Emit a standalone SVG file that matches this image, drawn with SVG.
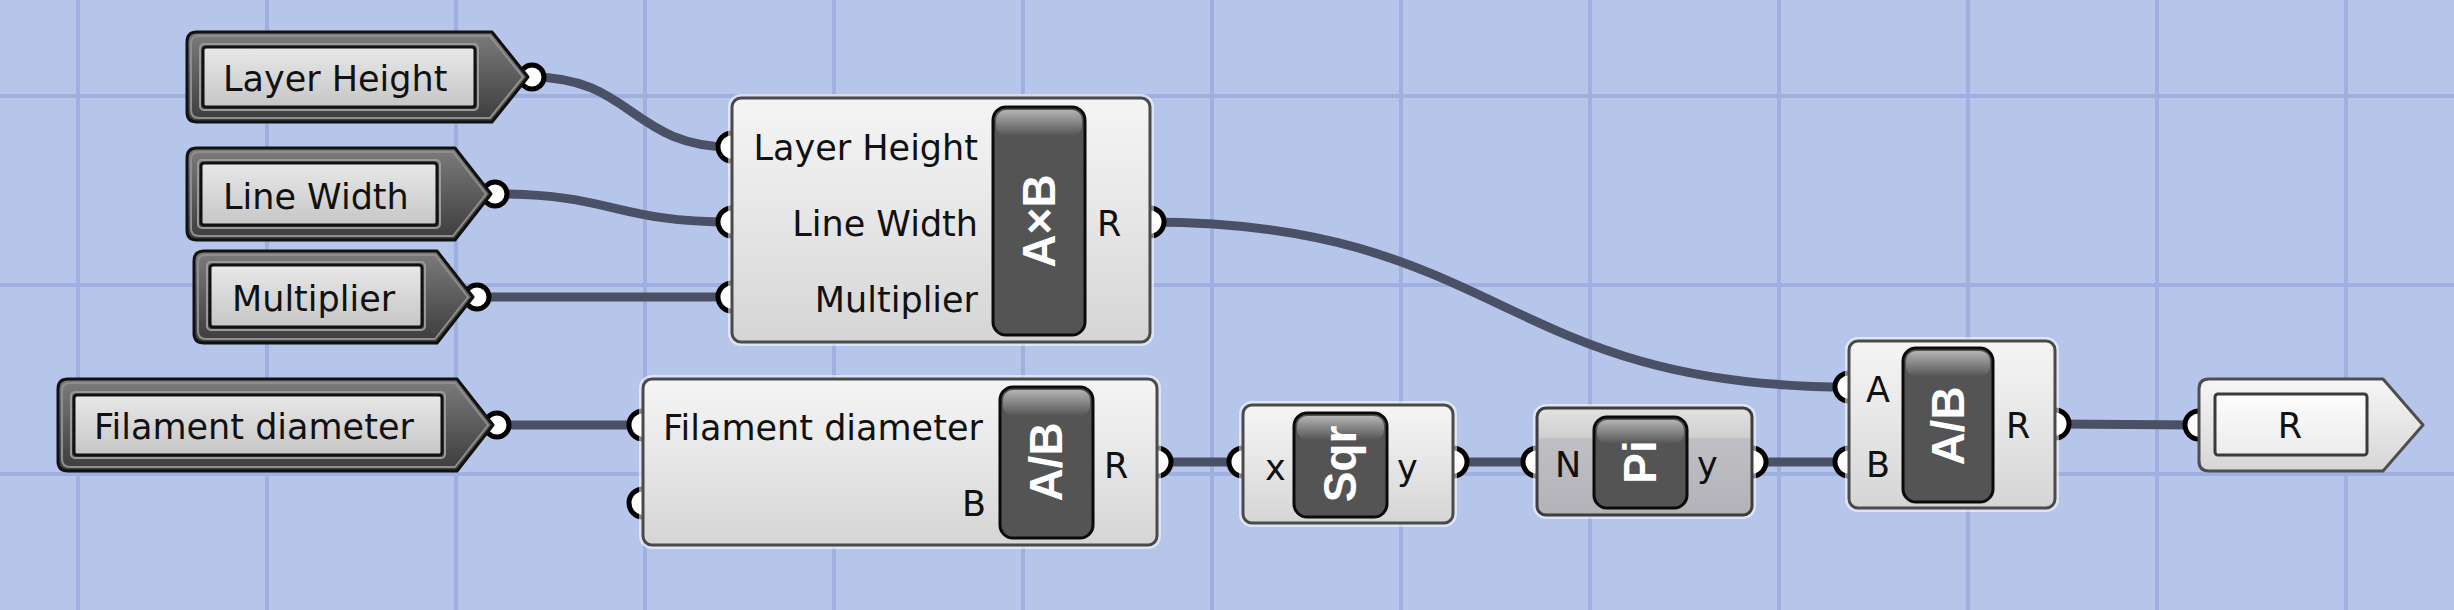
<svg xmlns="http://www.w3.org/2000/svg" width="2454" height="610" viewBox="0 0 2454 610">
<defs>
<style>
.grid{stroke:#9fb0e0;stroke-width:4}
.wire{fill:none;stroke:#4a5166;stroke-width:9}
.grip{fill:#ffffff;stroke:#000000;stroke-width:5}
.pout{fill:url(#gParam);stroke:#111111;stroke-width:3;stroke-linejoin:round}
.prim{fill:none;stroke:#8e8e8e;stroke-width:2;stroke-linejoin:round}
.pin{fill:url(#gParamIn);stroke:#111111;stroke-width:3}
.pinhalo{fill:none;stroke:#9a9a9a;stroke-width:2}
.glow{fill:none;stroke:#ffffff;stroke-opacity:0.55;stroke-width:8}
.body{fill:url(#gBody);stroke:#4a4a4a;stroke-width:3}
.btn{fill:#545454;stroke:#0a0a0a;stroke-width:3}
.hl{fill:url(#gHl)}
.lbl{font-family:"DejaVu Sans","Liberation Sans",sans-serif;font-size:35px;fill:#111111}
.ico{font-family:"Liberation Sans",Arial,sans-serif;font-weight:bold;font-size:46px;fill:#ffffff;text-anchor:middle}
.r{text-anchor:end}
.m{text-anchor:middle}
</style>
<linearGradient id="gParam" x1="0" y1="0" x2="0" y2="1">
<stop offset="0" stop-color="#7c7c7c"/><stop offset="0.5" stop-color="#5c5c5c"/><stop offset="1" stop-color="#3c3c3c"/>
</linearGradient>
<linearGradient id="gParamIn" x1="0" y1="0" x2="0" y2="1">
<stop offset="0" stop-color="#e8e8e8"/><stop offset="1" stop-color="#c6c6c6"/>
</linearGradient>
<linearGradient id="gBody" x1="0" y1="0" x2="0" y2="1">
<stop offset="0" stop-color="#f5f5f5"/><stop offset="0.5" stop-color="#e6e6e6"/><stop offset="1" stop-color="#d5d5d5"/>
</linearGradient>
<linearGradient id="gPi" x1="0" y1="0" x2="0" y2="1">
<stop offset="0" stop-color="#e2e2e2"/><stop offset="0.27" stop-color="#d0d0d0"/><stop offset="0.29" stop-color="#bfbfc4"/><stop offset="1" stop-color="#b2b2b8"/>
</linearGradient>
<linearGradient id="gHl" x1="0" y1="0" x2="0" y2="1">
<stop offset="0" stop-color="#b4b4b4"/><stop offset="1" stop-color="#545454"/>
</linearGradient>
<linearGradient id="gPanel" x1="0" y1="0" x2="0" y2="1">
<stop offset="0" stop-color="#f6f6f6"/><stop offset="1" stop-color="#d6d6d6"/>
</linearGradient>
<linearGradient id="gPanelIn" x1="0" y1="0" x2="0" y2="1">
<stop offset="0" stop-color="#fcfcfc"/><stop offset="1" stop-color="#ececec"/>
</linearGradient>
</defs>

<rect x="0" y="0" width="2454" height="610" fill="#b6c6eb"/>
<g id="grid">
<line class="grid" x1="78" y1="0" x2="78" y2="610"/>
<line class="grid" x1="267" y1="0" x2="267" y2="610"/>
<line class="grid" x1="456" y1="0" x2="456" y2="610"/>
<line class="grid" x1="645" y1="0" x2="645" y2="610"/>
<line class="grid" x1="834" y1="0" x2="834" y2="610"/>
<line class="grid" x1="1023" y1="0" x2="1023" y2="610"/>
<line class="grid" x1="1212" y1="0" x2="1212" y2="610"/>
<line class="grid" x1="1401" y1="0" x2="1401" y2="610"/>
<line class="grid" x1="1590" y1="0" x2="1590" y2="610"/>
<line class="grid" x1="1779" y1="0" x2="1779" y2="610"/>
<line class="grid" x1="1968" y1="0" x2="1968" y2="610"/>
<line class="grid" x1="2157" y1="0" x2="2157" y2="610"/>
<line class="grid" x1="2346" y1="0" x2="2346" y2="610"/>
<line class="grid" x1="0" y1="96" x2="2454" y2="96"/>
<line class="grid" x1="0" y1="285" x2="2454" y2="285"/>
<line class="grid" x1="0" y1="474" x2="2454" y2="474"/>
</g>

<g id="connectors">
<path class="wire" d="M532,77 C632,77 632,147 732,147"/>
<path class="wire" d="M495,194 C614,194 614,222 732,222"/>
<path class="wire" d="M477,297 L732,297"/>
<path class="wire" d="M1150,222 C1500,222 1499,387 1849,387"/>
<path class="wire" d="M497,425 L643,425"/>
<path class="wire" d="M1157,462 L1243,462"/>
<path class="wire" d="M1453,462 L1537,462"/>
<path class="wire" d="M1752,462 L1849,462"/>
<path class="wire" d="M2055,424 L2199,425"/>
</g>

<g id="param-layer-height">
<circle class="grip" cx="532" cy="77" r="12"/>
<path class="pout" d="M197,32 H492 L528,77 L492,122 H197 Q187,122 187,112 V42 Q187,32 197,32 Z"/>
<path class="prim" d="M199,36 H490 L523,77 L490,118 H199 Q191,118 191,110 V44 Q191,36 199,36 Z"/>
<rect class="pinhalo" x="200" y="44" width="278" height="66" rx="4"/>
<rect class="pin" x="203" y="47" width="272" height="60" rx="3"/>
<text class="lbl" x="223" y="91">Layer Height</text>
</g>

<g id="param-line-width">
<circle class="grip" cx="495" cy="194" r="12"/>
<path class="pout" d="M197,148 H455 L491,194 L455,240 H197 Q187,240 187,230 V158 Q187,148 197,148 Z"/>
<path class="prim" d="M199,152 H453 L486,194 L453,236 H199 Q191,236 191,228 V160 Q191,152 199,152 Z"/>
<rect class="pinhalo" x="198" y="160" width="242" height="68" rx="4"/>
<rect class="pin" x="201" y="163" width="236" height="62" rx="3"/>
<text class="lbl" x="223" y="209">Line Width</text>
</g>

<g id="param-multiplier">
<circle class="grip" cx="477" cy="297" r="12"/>
<path class="pout" d="M204,251 H437 L473,297 L437,343 H204 Q194,343 194,333 V261 Q194,251 204,251 Z"/>
<path class="prim" d="M206,255 H435 L468,297 L435,339 H206 Q198,339 198,331 V263 Q198,255 206,255 Z"/>
<rect class="pinhalo" x="207" y="262" width="218" height="68" rx="4"/>
<rect class="pin" x="210" y="265" width="212" height="62" rx="3"/>
<text class="lbl" x="232" y="311">Multiplier</text>
</g>

<g id="param-filament-diameter">
<circle class="grip" cx="497" cy="425" r="12"/>
<path class="pout" d="M68,379 H457 L493,425 L457,471 H68 Q58,471 58,461 V389 Q58,379 68,379 Z"/>
<path class="prim" d="M70,383 H455 L488,425 L455,467 H70 Q62,467 62,459 V391 Q62,383 70,383 Z"/>
<rect class="pinhalo" x="71" y="392" width="374" height="66" rx="4"/>
<rect class="pin" x="74" y="395" width="368" height="60" rx="3"/>
<text class="lbl" x="94" y="439">Filament diameter</text>
</g>

<g id="mult-AxB">
<circle class="grip" cx="732" cy="147" r="14"/>
<circle class="grip" cx="732" cy="222" r="14"/>
<circle class="grip" cx="732" cy="297" r="14"/>
<circle class="grip" cx="1150" cy="222" r="14"/>
<rect class="glow" x="732" y="98" width="418" height="244" rx="9"/>
<rect class="body" x="732" y="98" width="418" height="244" rx="9"/>
<rect class="btn" x="993" y="107" width="92" height="228" rx="13"/>
<rect class="hl" x="996" y="110" width="86" height="26" rx="10"/>
<text class="ico" transform="translate(1039,221) rotate(-90)" x="0" y="16">A×B</text>
<text class="lbl r" x="978" y="160">Layer Height</text>
<text class="lbl r" x="978" y="236">Line Width</text>
<text class="lbl r" x="978" y="312">Multiplier</text>
<text class="lbl" x="1097" y="236">R</text>
</g>

<g id="div-1">
<circle class="grip" cx="643" cy="425" r="14"/>
<circle class="grip" cx="643" cy="503" r="14"/>
<circle class="grip" cx="1157" cy="462" r="14"/>
<rect class="glow" x="643" y="379" width="514" height="166" rx="9"/>
<rect class="body" x="643" y="379" width="514" height="166" rx="9"/>
<rect class="btn" x="1000" y="387" width="93" height="151" rx="13"/>
<rect class="hl" x="1003" y="390" width="87" height="26" rx="10"/>
<text class="ico" transform="translate(1046,462) rotate(-90)" x="0" y="16">A/B</text>
<text class="lbl" x="663" y="440">Filament diameter</text>
<text class="lbl r" x="986" y="516">B</text>
<text class="lbl" x="1104" y="478">R</text>
</g>

<g id="sqr">
<circle class="grip" cx="1243" cy="462" r="14"/>
<circle class="grip" cx="1453" cy="462" r="14"/>
<rect class="glow" x="1243" y="405" width="210" height="118" rx="9"/>
<rect class="body" x="1243" y="405" width="210" height="118" rx="9"/>
<rect class="btn" x="1294" y="413" width="93" height="104" rx="13"/>
<rect class="hl" x="1297" y="416" width="87" height="24" rx="10"/>
<text class="ico" transform="translate(1340,464) rotate(-90)" x="0" y="16">Sqr</text>
<text class="lbl" x="1265" y="480">x</text>
<text class="lbl" x="1397" y="480">y</text>
</g>

<g id="pi">
<circle class="grip" cx="1537" cy="462" r="14"/>
<circle class="grip" cx="1752" cy="462" r="14"/>
<rect class="glow" x="1537" y="408" width="215" height="107" rx="9"/>
<rect x="1537" y="408" width="215" height="107" rx="9" fill="url(#gPi)" stroke="#3e3e3e" stroke-width="3"/>
<rect class="btn" x="1594" y="417" width="93" height="91" rx="13"/>
<rect class="hl" x="1597" y="420" width="87" height="24" rx="10"/>
<text class="ico" transform="translate(1640,462) rotate(-90)" x="0" y="16">Pi</text>
<text class="lbl" x="1555" y="477">N</text>
<text class="lbl" x="1697" y="477">y</text>
</g>

<g id="div-2">
<circle class="grip" cx="1849" cy="387" r="14"/>
<circle class="grip" cx="1849" cy="462" r="14"/>
<circle class="grip" cx="2055" cy="424" r="14"/>
<rect class="glow" x="1849" y="341" width="206" height="167" rx="9"/>
<rect class="body" x="1849" y="341" width="206" height="167" rx="9"/>
<rect class="btn" x="1903" y="348" width="90" height="154" rx="13"/>
<rect class="hl" x="1906" y="351" width="84" height="26" rx="10"/>
<text class="ico" transform="translate(1948,426) rotate(-90)" x="0" y="16">A/B</text>
<text class="lbl" x="1866" y="402">A</text>
<text class="lbl" x="1866" y="477">B</text>
<text class="lbl" x="2006" y="438">R</text>
</g>

<g id="panel-R">
<circle class="grip" cx="2199" cy="425" r="14"/>
<path d="M2209,379 H2383 L2423,425 L2383,471 H2209 Q2199,471 2199,461 V389 Q2199,379 2209,379 Z" fill="url(#gPanel)" stroke="#4e4e4e" stroke-width="3" stroke-linejoin="round"/>
<rect x="2215" y="394" width="152" height="61" rx="3" fill="url(#gPanelIn)" stroke="#3a3a3a" stroke-width="3"/>
<text class="lbl m" x="2290" y="438">R</text>
</g>
</svg>
